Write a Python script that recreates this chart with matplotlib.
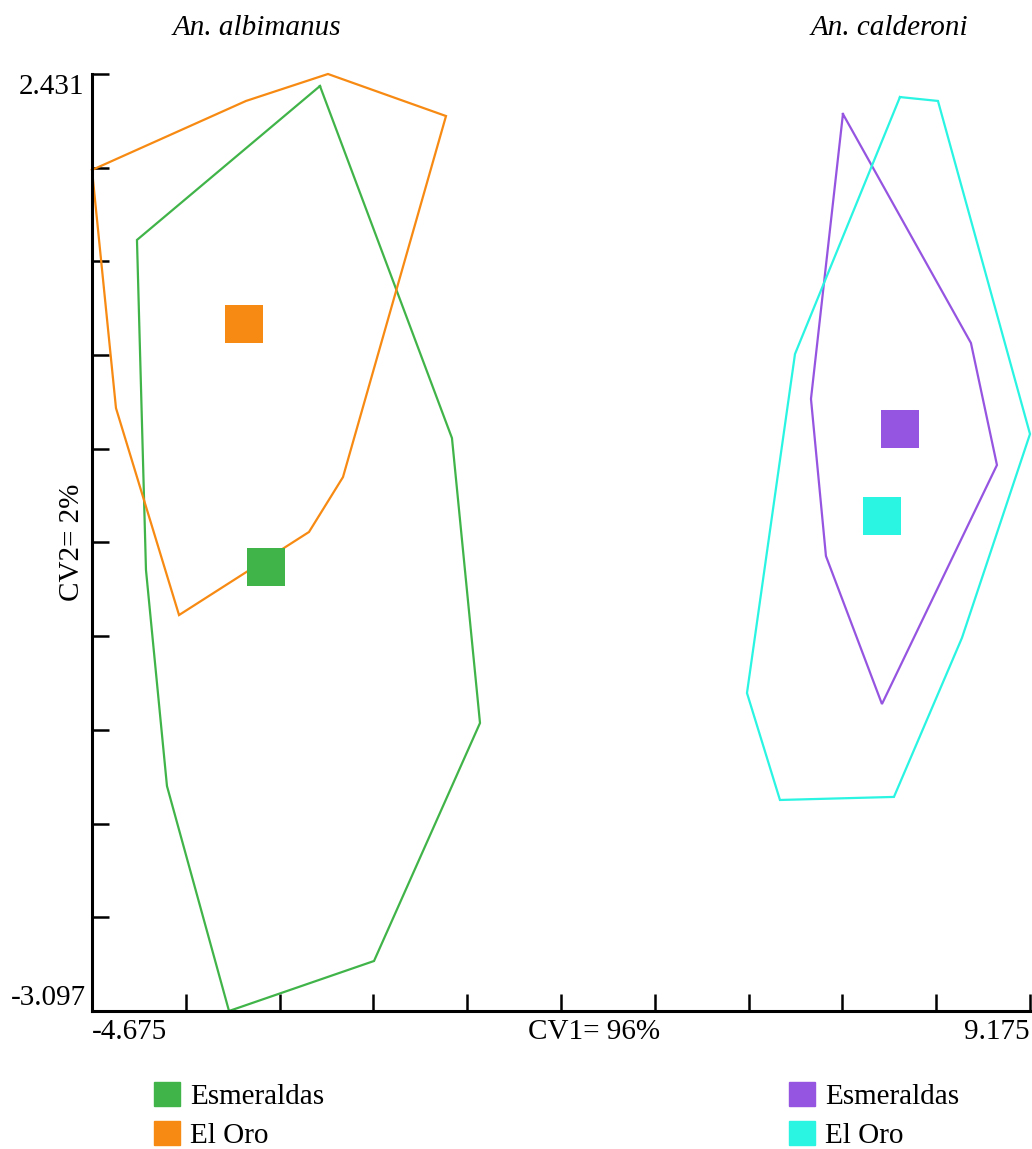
import matplotlib
matplotlib.use("Agg")
import matplotlib.pyplot as plt
from matplotlib.patches import Patch
import numpy as np

plt.rcParams["font.family"] = ["Liberation Serif", "DejaVu Serif"]

# CV1 / CV2 axis limits
x_min, x_max = -4.675, 9.175
y_min, y_max = -3.097, 2.431

# convex hulls, An. albimanus
alb_esm_x = [-1.309, 0.640, 1.054, -0.511, -2.652, -3.568, -3.878, -4.011]
alb_esm_y = [2.360, 0.283, -1.398, -2.802, -3.097, -1.770, -0.495, 1.452]
alb_oro_x = [-4.675, -2.401, -1.191, 0.552, -0.969, -1.471, -3.390, -4.321]
alb_oro_y = [1.865, 2.272, 2.431, 2.183, 0.053, -0.271, -0.761, 0.460]

# convex hulls, An. calderoni
cal_esm_x = [6.413, 8.303, 8.687, 6.989, 6.162, 5.941]
cal_esm_y = [2.195, 0.844, 0.124, -1.286, -0.413, 0.514]
cal_oro_x = [7.255, 7.816, 9.175, 8.170, 7.166, 5.483, 4.996, 5.705]
cal_oro_y = [2.295, 2.272, 0.307, -0.896, -1.834, -1.852, -1.221, 0.779]

# group means
mean_labels = ["alb Esmeraldas", "alb El Oro", "cal Esmeraldas", "cal El Oro"]
mean_x = [-2.106, -2.431, 7.255, 6.989]
mean_y = [-0.478, 0.956, 0.337, -0.177]

GREEN = "#41b449"
ORANGE = "#f78a12"
PURPLE = "#9655e0"
CYAN = "#2af4e2"
colors = [GREEN, ORANGE, PURPLE, CYAN]

FS = 21

fig = plt.figure(figsize=(10.32, 11.49), dpi=100)
ax = fig.add_axes([92 / 1032, 138 / 1149, 938 / 1032, 937 / 1149])

hulls = [(alb_esm_x, alb_esm_y), (alb_oro_x, alb_oro_y),
         (cal_esm_x, cal_esm_y), (cal_oro_x, cal_oro_y)]
for (hx, hy), c in zip(hulls, colors):
    ax.plot(hx + hx[:1], hy + hy[:1], color=c, lw=1.6, clip_on=False,
            solid_joinstyle="miter")

for mx, my, c in zip(mean_x, mean_y, colors):
    ax.plot([mx], [my], marker="s", ms=28, color=c, mew=0, ls="none")

ax.set_xlim(x_min, x_max)
ax.set_ylim(y_min, y_max)
for side in ("top", "right"):
    ax.spines[side].set_visible(False)
for side in ("left", "bottom"):
    ax.spines[side].set_linewidth(2.2)
ax.set_xticks(np.linspace(x_min, x_max, 11))
ax.set_yticks(np.linspace(y_min, y_max, 11))
ax.tick_params(direction="in", length=12, width=1.8,
               labelbottom=False, labelleft=False)

# end tick labels and axis titles
ax.text(0, -0.009, f"{x_min}", transform=ax.transAxes, ha="left", va="top", fontsize=FS)
ax.text(1, -0.009, f"{x_max}", transform=ax.transAxes, ha="right", va="top", fontsize=FS)
ax.text(0.535, -0.009, "CV1= 96%", transform=ax.transAxes, ha="center", va="top", fontsize=FS)
ax.text(-0.008, 1.0, f"{y_max}", transform=ax.transAxes, ha="right", va="top", fontsize=FS)
ax.text(-0.006, 0.0, f"{y_min}", transform=ax.transAxes, ha="right", va="bottom", fontsize=FS)
ax.text(-0.021, 0.5, "CV2= 2%", transform=ax.transAxes, rotation=90,
        ha="center", va="center", fontsize=FS)

fig.text(257 / 1032, 1 - 28 / 1149, "An. albimanus", style="italic",
         ha="center", va="center", fontsize=FS)
fig.text(889 / 1032, 1 - 28 / 1149, "An. calderoni", style="italic",
         ha="center", va="center", fontsize=FS)

leg_kw = dict(frameon=False, fontsize=FS, handlelength=0.9, handleheight=0.9,
              handletextpad=0.35, labelspacing=0.37, borderpad=0, borderaxespad=0,
              loc="upper left")
fig.legend([Patch(color=GREEN), Patch(color=ORANGE)], ["Esmeraldas", "El Oro"],
           bbox_to_anchor=(154 / 1032, 1 - 1082 / 1149), **leg_kw)
fig.legend([Patch(color=PURPLE), Patch(color=CYAN)], ["Esmeraldas", "El Oro"],
           bbox_to_anchor=(789 / 1032, 1 - 1082 / 1149), **leg_kw)

fig.savefig("out.png", dpi=100)
